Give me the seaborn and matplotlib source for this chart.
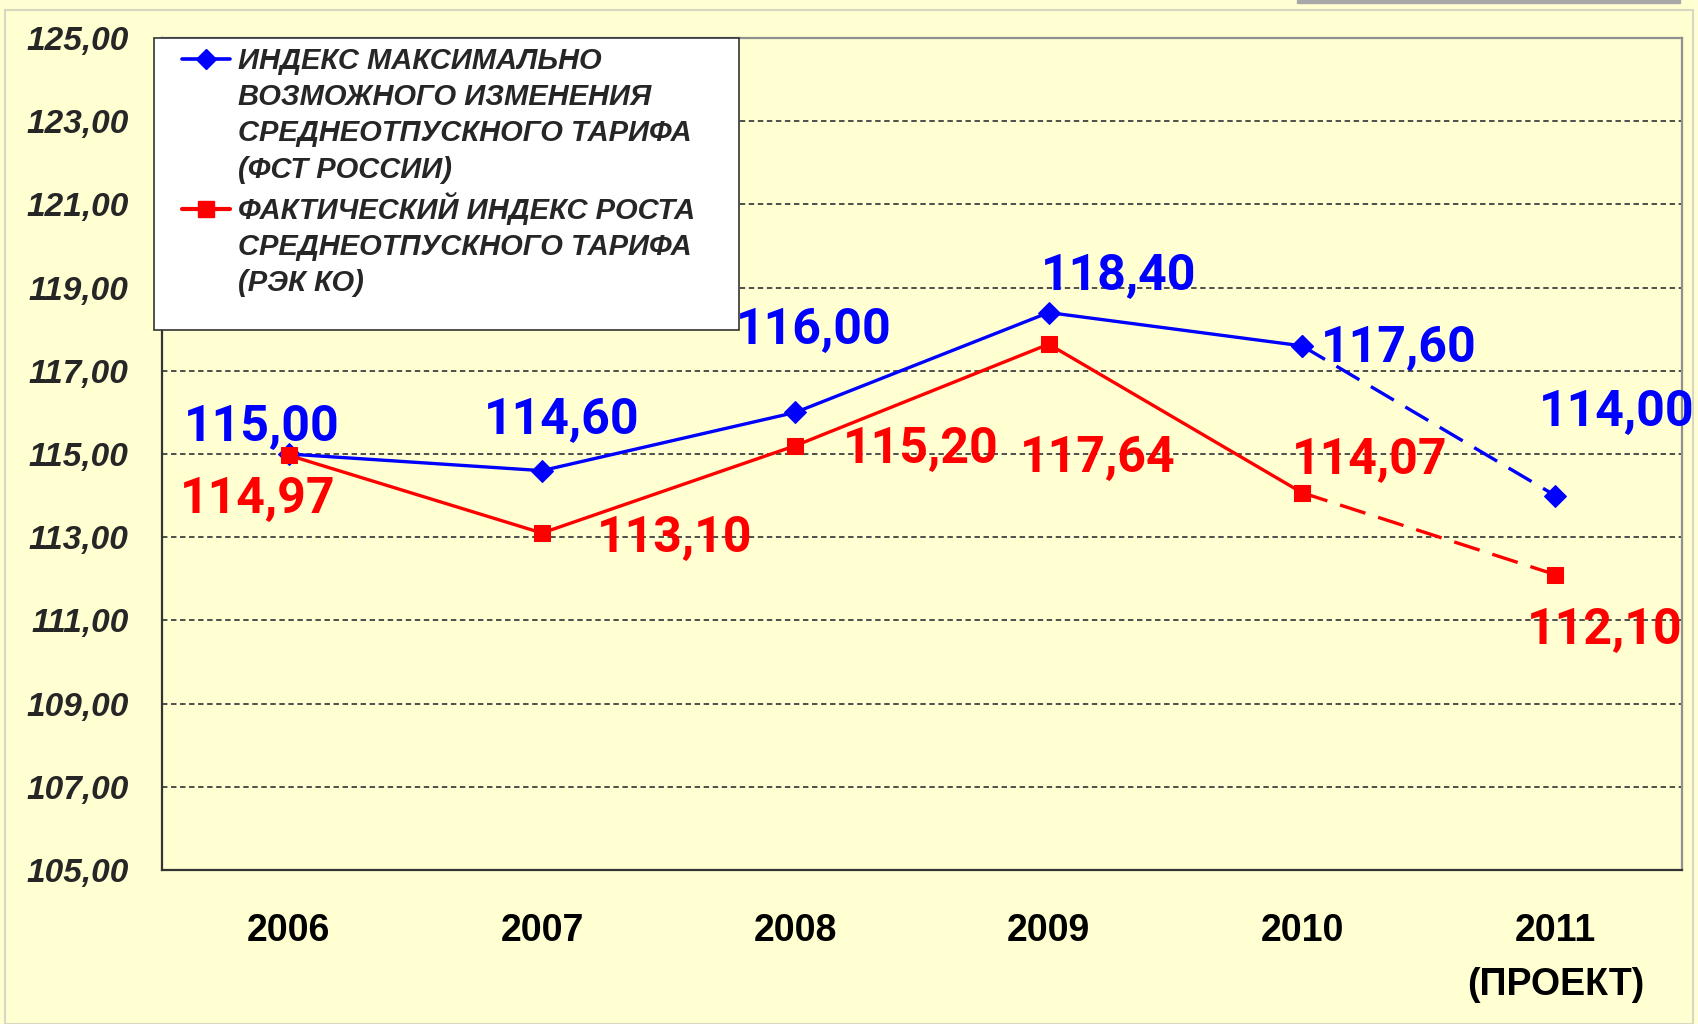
import numpy as np
import pandas as pd
import matplotlib
matplotlib.use("Agg")
import matplotlib.pyplot as plt
from matplotlib.lines import Line2D
from matplotlib.patches import Rectangle
from matplotlib.ticker import FuncFormatter, FixedLocator
import seaborn as sns

# data
years = ["2006", "2007", "2008", "2009", "2010", "2011\n(ПРОЕКТ)"]
fst_index = [115.00, 114.60, 116.00, 118.40, 117.60, 114.00]
rek_index = [114.97, 113.10, 115.20, 117.64, 114.07, 112.10]
fst_label = ["ИНДЕКС МАКСИМАЛЬНО", "ВОЗМОЖНОГО ИЗМЕНЕНИЯ",
             "СРЕДНЕОТПУСКНОГО ТАРИФА", "(ФСТ РОССИИ)"]
rek_label = ["ФАКТИЧЕСКИЙ ИНДЕКС РОСТА", "СРЕДНЕОТПУСКНОГО ТАРИФА", "(РЭК КО)"]

BLUE = "#0000FF"
RED = "#FF0000"
BG = "#FFFFD2"
W, H = 1698, 1024

sns.set_theme(style="white")
plt.rcParams["font.family"] = ["Liberation Sans", "DejaVu Sans"]

df = pd.DataFrame({"pos": np.arange(len(years)), "fst": fst_index, "rek": rek_index})
solid = df.iloc[:-1]
dashed = df.iloc[-2:]

fig = plt.figure(figsize=(W / 100, H / 100), dpi=100, facecolor=BG)
ax = fig.add_axes([162 / W, 1 - 870 / H, 1520 / W, 832 / H])
ax.set_facecolor(BG)

# slide decorations
fig.patches.append(Rectangle((0.003, 0.0), 0.994, 1 - 10 / H, transform=fig.transFigure,
                             fill=False, edgecolor="#d8d8c0", lw=1.5))
fig.patches.append(Rectangle((1297 / W, 1 - 3 / H), 383 / W, 3 / H,
                             transform=fig.transFigure, color="#a8a8a8"))

# lines
for col, color, mk, ms in [("fst", BLUE, "D", 11), ("rek", RED, "s", 12)]:
    sns.lineplot(data=solid, x="pos", y=col, ax=ax, color=color, lw=2.4,
                 marker=mk, markersize=ms, markeredgecolor=color, zorder=4)
    sns.lineplot(data=dashed, x="pos", y=col, ax=ax, color=color, lw=2.4,
                 dashes=False, linestyle=(0, (8, 4)), marker=mk, markersize=ms,
                 markeredgecolor=color, zorder=4)

# value labels
fmt = lambda v: f"{v:.2f}".replace(".", ",")
fst_off = [(-27, 27), (20, 50), (18, 82), (70, 36), (97, -3), (61, 83)]
rek_off = [(-31, -44), (133, -5), (125, -4), (49, -114), (68, 32), (49, -56)]
for vals, offs, color in [(fst_index, fst_off, BLUE), (rek_index, rek_off, RED)]:
    for i, (v, o) in enumerate(zip(vals, offs)):
        ax.annotate(fmt(v), (i, v), xytext=o, textcoords="offset pixels",
                    ha="center", va="center", color=color, fontsize=36,
                    fontweight="bold", family=["Roboto", "DejaVu Sans"], zorder=5)

# axes
ax.set_xlim(-0.5, len(years) - 0.5)
ax.set_ylim(105, 125)
ax.set_yticks(np.arange(105, 125.1, 2))
ax.yaxis.set_major_formatter(FuncFormatter(lambda v, p: fmt(v)))
ax.set_xticks(df["pos"])
ax.set_xticklabels(years)
ax.xaxis.set_minor_locator(FixedLocator(np.arange(-0.5, len(years), 1)))
ax.tick_params(axis="x", which="major", length=0, pad=31, labelsize=27, colors="black")
ax.tick_params(axis="x", which="minor", length=10, width=1.2, color="#333333", direction="out")
ax.tick_params(axis="y", length=0, pad=24, labelsize=24)
for lbl in ax.get_xticklabels():
    lbl.set_fontweight("bold")
    lbl.set_linespacing(1.65)
for lbl in ax.get_yticklabels():
    lbl.set_fontweight("bold")
    lbl.set_fontstyle("italic")
ax.set_xlabel("")
ax.set_ylabel("")

ax.grid(False)
for y in np.arange(107, 124, 2):
    ax.axhline(y, color="#404040", lw=1.3, linestyle=(0, (3, 2)), zorder=1)

for s in ["left", "bottom"]:
    ax.spines[s].set_color("#333333")
    ax.spines[s].set_linewidth(1.6)
for s in ["top", "right"]:
    ax.spines[s].set_color("#909090")
    ax.spines[s].set_linewidth(1.6)

# legend box drawn separately, entries on top of it
box = Rectangle((154 / W, 1 - 330 / H), 585 / W, 292 / H, transform=fig.transFigure,
                facecolor="white", edgecolor="#333333", lw=1.2, zorder=5)
fig.patches.append(box)

blank = Line2D([], [], color="none")
handles = [Line2D([], [], color=BLUE, lw=2.6, marker="D", markersize=10)] + [blank] * 3 \
    + [Line2D([], [], color=RED, lw=3, marker="s", markersize=11)] + [blank] * 2
labels = fst_label + rek_label
leg = fig.legend(handles, labels, loc="upper left", bbox_to_anchor=(182 / W, 1 - 47 / H),
                 frameon=False, handlelength=1.64, handletextpad=0.27,
                 labelspacing=0.28, borderpad=0, borderaxespad=0,
                 prop={"size": 21, "weight": "bold", "style": "italic"})
leg.set_zorder(6)

fig.savefig("out.png", dpi=100, facecolor=BG)
